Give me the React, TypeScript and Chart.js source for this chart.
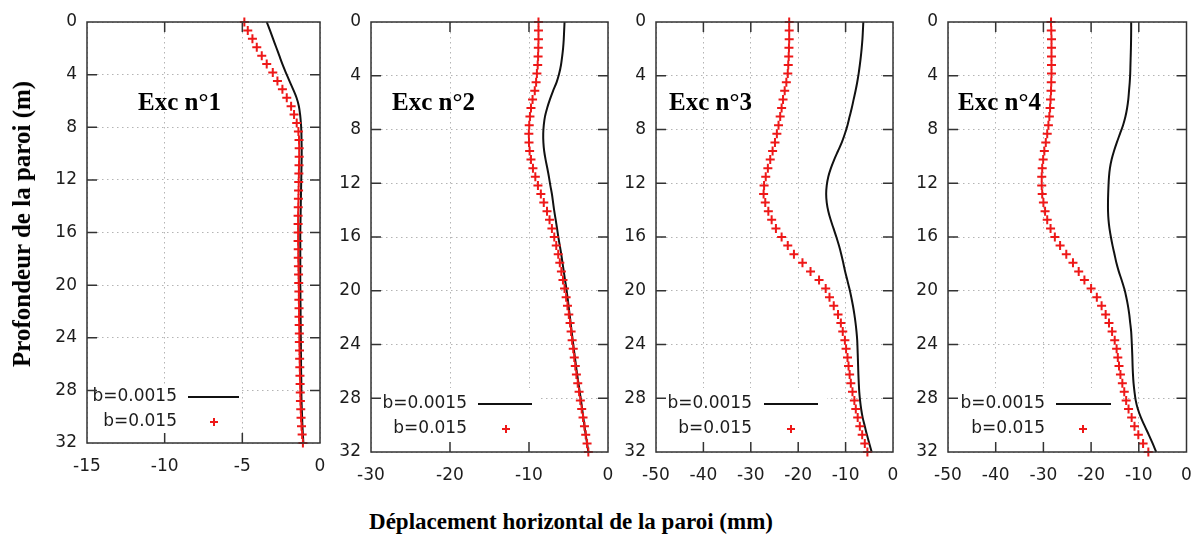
import React, { useEffect, useRef } from 'react';
import { Chart, registerables } from 'chart.js';
Chart.register(...registerables);

// ---------- DATA ----------
const depths = [0, 0.64, 1.28, 1.92, 2.56, 3.2, 3.84, 4.48, 5.12, 5.76, 6.4, 7.04, 7.68, 8.32, 8.96, 9.6, 10.24, 10.88, 11.52, 12.16, 12.8, 13.44, 14.08, 14.72, 15.36, 16, 16.64, 17.28, 17.92, 18.56, 19.2, 19.84, 20.48, 21.12, 21.76, 22.4, 23.04, 23.68, 24.32, 24.96, 25.6, 26.24, 26.88, 27.52, 28.16, 28.8, 29.44, 30.08, 30.72, 31.36, 32];

// b=0.0015 (solid line)
const exc1Line = [-3.43, -3.22, -3.02, -2.82, -2.62, -2.42, -2.2, -1.97, -1.73, -1.51, -1.36, -1.28, -1.23, -1.2, -1.19, -1.18, -1.18, -1.19, -1.2, -1.21, -1.22, -1.23, -1.24, -1.25, -1.26, -1.27, -1.27, -1.27, -1.27, -1.27, -1.27, -1.27, -1.26, -1.26, -1.25, -1.25, -1.24, -1.24, -1.23, -1.23, -1.22, -1.22, -1.21, -1.2, -1.2, -1.19, -1.17, -1.15, -1.13, -1.1, -1.07];
// b=0.015 (red crosses)
const exc1Marks = [-4.87, -4.65, -4.35, -4.07, -3.75, -3.43, -3.04, -2.74, -2.42, -2.14, -1.86, -1.67, -1.5, -1.39, -1.35, -1.34, -1.34, -1.35, -1.36, -1.37, -1.38, -1.39, -1.4, -1.41, -1.41, -1.41, -1.41, -1.4, -1.4, -1.39, -1.38, -1.37, -1.36, -1.36, -1.35, -1.35, -1.34, -1.33, -1.33, -1.32, -1.31, -1.3, -1.29, -1.28, -1.27, -1.26, -1.24, -1.22, -1.19, -1.15, -1.1];

const exc2Line = [-5.5, -5.55, -5.6, -5.68, -5.8, -5.95, -6.18, -6.5, -6.95, -7.35, -7.7, -7.98, -8.13, -8.2, -8.18, -8.08, -7.9, -7.68, -7.48, -7.3, -7.1, -6.95, -6.8, -6.62, -6.45, -6.29, -6.1, -5.92, -5.76, -5.6, -5.44, -5.27, -5.13, -4.99, -4.86, -4.73, -4.6, -4.47, -4.33, -4.19, -4.05, -3.9, -3.74, -3.58, -3.42, -3.27, -3.12, -2.98, -2.82, -2.65, -2.49];
const exc2Marks = [-8.8, -8.8, -8.8, -8.82, -8.85, -8.9, -9.0, -9.1, -9.27, -9.55, -9.75, -9.88, -9.97, -10.02, -10.0, -9.92, -9.75, -9.5, -9.2, -8.87, -8.5, -8.13, -7.72, -7.4, -7.1, -6.8, -6.55, -6.3, -6.1, -5.9, -5.7, -5.5, -5.3, -5.13, -4.96, -4.8, -4.67, -4.54, -4.4, -4.27, -4.14, -4.0, -3.83, -3.66, -3.5, -3.33, -3.16, -2.98, -2.82, -2.65, -2.49];

const exc3Line = [-6.26, -6.35, -6.45, -6.6, -6.78, -7.0, -7.25, -7.55, -7.9, -8.3, -8.7, -9.15, -9.6, -10.15, -10.8, -11.6, -12.4, -13.1, -13.65, -13.98, -14.1, -13.98, -13.65, -13.15, -12.55, -11.95, -11.4, -10.92, -10.5, -10.1, -9.65, -9.2, -8.8, -8.45, -8.15, -7.9, -7.7, -7.55, -7.48, -7.42, -7.36, -7.3, -7.22, -7.12, -6.95, -6.72, -6.4, -5.95, -5.5, -5.0, -4.5];
const exc3Marks = [-21.9, -21.9, -21.9, -21.95, -22.0, -22.1, -22.2, -22.5, -22.85, -23.2, -23.5, -23.8, -24.15, -24.5, -24.9, -25.4, -25.9, -26.4, -26.85, -27.2, -27.3, -26.95, -26.3, -25.6, -24.7, -23.5, -22.2, -20.9, -19.1, -17.4, -15.6, -14.2, -13.4, -12.5, -11.6, -11.0, -10.6, -10.15, -9.9, -9.6, -9.38, -9.15, -8.9, -8.55, -8.15, -7.85, -7.45, -7.0, -6.5, -5.95, -5.4];

const exc4Line = [-11.6, -11.6, -11.62, -11.65, -11.7, -11.75, -11.8, -11.9, -12.05, -12.2, -12.45, -12.8, -13.3, -13.95, -14.6, -15.2, -15.7, -16.05, -16.25, -16.35, -16.42, -16.46, -16.45, -16.35, -16.15, -15.85, -15.5, -15.1, -14.7, -14.2, -13.6, -13.05, -12.62, -12.27, -12.0, -11.8, -11.6, -11.5, -11.42, -11.35, -11.3, -11.22, -11.1, -10.9, -10.65, -10.2, -9.55, -8.75, -7.9, -7.1, -6.35];
const exc4Marks = [-28.4, -28.35, -28.3, -28.3, -28.3, -28.3, -28.3, -28.35, -28.4, -28.5, -28.6, -28.75, -28.95, -29.2, -29.5, -29.8, -30.05, -30.25, -30.35, -30.35, -30.25, -30.0, -29.65, -29.2, -28.5, -27.6, -26.5, -25.2, -23.8, -22.6, -21.4, -20.0, -18.8, -17.8, -16.95, -16.25, -15.6, -15.05, -14.65, -14.4, -14.15, -13.85, -13.45, -13.05, -12.65, -12.15, -11.5, -10.9, -10.1, -9.1, -8.0];

const panelNames = ['Exc n°1', 'Exc n°2', 'Exc n°3', 'Exc n°4'];
const legendLabels = ['b=0.0015', 'b=0.015'];
const xMins = [-15, -30, -50, -50];
const xMax = 0;
const xSteps = [5, 10, 10, 10];
const yMin = 0;
const yMax = 32;
const yStep = 4;
const yTitle = 'Profondeur de la paroi (m)';
const xTitle = 'Déplacement horizontal de la paroi (mm)';

const lineSeries = [exc1Line, exc2Line, exc3Line, exc4Line];
const markSeries = [exc1Marks, exc2Marks, exc3Marks, exc4Marks];

// ---------- LAYOUT / STYLE ----------
const RED = 'rgb(238,24,24)';
const INK = '#1c1c1c';
const layouts = [
  { left: 0, width: 328, height: 500, yW: 87, xH: 57, padR: 8, labelDx: 51,
    lg: { textR: 90, ls: 101, le: 152, mk: 127, boxR: 155, y1: 46, y2: 21, boxT: 56 } },
  { left: 325, width: 290, height: 500, yW: 46, xH: 48, padR: 7, labelDx: 21,
    lg: { textR: 96, ls: 107, le: 161, mk: 135, boxR: 170, y1: 48, y2: 23, boxT: 64 } },
  { left: 615, width: 285, height: 500, yW: 41, xH: 48, padR: 7, labelDx: 13,
    lg: { textR: 96, ls: 108, le: 162, mk: 135, boxR: 171, y1: 48, y2: 23, boxT: 64 } },
  { left: 905, width: 288, height: 500, yW: 43, xH: 48, padR: 6, labelDx: 10,
    lg: { textR: 97, ls: 108, le: 163, mk: 135, boxR: 172, y1: 48, y2: 23, boxT: 64 } },
];

function makeDecor(idx: number) {
  const lay = layouts[idx];
  const L = lay.lg;
  return {
    id: 'decor' + idx,
    beforeDatasetsDraw(chart: any) {
      const { ctx, chartArea: a } = chart;
      ctx.save();
      // legend box (white, hides grid)
      ctx.fillStyle = '#ffffff';
      ctx.fillRect(a.left + 1, a.bottom - L.boxT, L.boxR - 1, L.boxT - 1);
      // panel label
      ctx.fillStyle = '#000';
      ctx.font = 'bold 25px "Liberation Serif"';
      ctx.textAlign = 'left';
      ctx.textBaseline = 'alphabetic';
      ctx.fillText(panelNames[idx], a.left + lay.labelDx, 110);
      // legend texts
      ctx.font = '17px "DejaVu Sans"';
      ctx.fillStyle = INK;
      ctx.textAlign = 'right';
      ctx.textBaseline = 'middle';
      ctx.fillText(legendLabels[0], a.left + L.textR, a.bottom - L.y1);
      ctx.fillText(legendLabels[1], a.left + L.textR, a.bottom - L.y2);
      // line sample
      ctx.strokeStyle = '#111';
      ctx.lineWidth = 2;
      ctx.beginPath();
      ctx.moveTo(a.left + L.ls, a.bottom - L.y1);
      ctx.lineTo(a.left + L.le, a.bottom - L.y1);
      ctx.stroke();
      // marker sample
      const mx = a.left + L.mk, my = a.bottom - L.y2;
      ctx.strokeStyle = RED;
      ctx.lineWidth = 2;
      ctx.beginPath();
      ctx.moveTo(mx - 4, my); ctx.lineTo(mx + 4, my);
      ctx.moveTo(mx, my - 4); ctx.lineTo(mx, my + 4);
      ctx.stroke();
      ctx.restore();
    },
    afterDraw(chart: any) {
      const { ctx, chartArea: a, scales } = chart;
      ctx.save();
      ctx.strokeStyle = '#333';
      ctx.lineWidth = 1.5;
      ctx.strokeRect(a.left, a.top, a.right - a.left, a.bottom - a.top);
      const tl = 10;
      ctx.beginPath();
      scales.x.ticks.forEach((t: any) => {
        const px = scales.x.getPixelForValue(t.value);
        if (Math.abs(px - a.left) < 2 || Math.abs(px - a.right) < 2) return;
        ctx.moveTo(px, a.bottom); ctx.lineTo(px, a.bottom - tl);
        ctx.moveTo(px, a.top); ctx.lineTo(px, a.top + tl);
      });
      scales.y.ticks.forEach((t: any) => {
        const py = scales.y.getPixelForValue(t.value);
        if (Math.abs(py - a.top) < 2 || Math.abs(py - a.bottom) < 2) return;
        ctx.moveTo(a.left, py); ctx.lineTo(a.left + tl, py);
        ctx.moveTo(a.right, py); ctx.lineTo(a.right - tl, py);
      });
      ctx.stroke();
      ctx.restore();
    },
  };
}

function Panel({ idx }: { idx: number }) {
  const ref = useRef<HTMLCanvasElement | null>(null);
  const lay = layouts[idx];
  useEffect(() => {
    if (!ref.current) return;
    const lineData = depths.map((d, i) => ({ x: lineSeries[idx][i], y: d }));
    const markData = depths.map((d, i) => ({ x: markSeries[idx][i], y: d }));
    const tickFont = { family: '"DejaVu Sans"', size: 17 };
    const chart = new Chart(ref.current, {
      type: 'scatter',
      data: {
        datasets: [
          {
            label: legendLabels[1],
            data: markData,
            pointStyle: 'cross',
            pointRadius: 4.5,
            pointBorderWidth: 2,
            borderColor: RED,
            backgroundColor: RED,
            showLine: false,
            clip: false as any,
          },
          {
            label: legendLabels[0],
            data: lineData,
            showLine: true,
            pointRadius: 0,
            borderColor: '#111',
            borderWidth: 2,
            tension: 0.3,
            clip: false as any,
          },
        ],
      },
      options: {
        animation: false,
        responsive: false,
        events: [],
        layout: { padding: { left: 0, right: lay.padR, top: 22, bottom: 0 } },
        plugins: { legend: { display: false }, tooltip: { enabled: false }, title: { display: false } },
        scales: {
          x: {
            type: 'linear',
            min: xMins[idx],
            max: xMax,
            afterFit: (s: any) => { s.height = lay.xH; s.paddingLeft = 0; s.paddingRight = 0; },
            ticks: { stepSize: xSteps[idx], color: INK, font: tickFont, padding: 13, maxRotation: 0, autoSkip: false },
            grid: { color: '#b4b4b4', lineWidth: 1, drawTicks: false },
            border: { display: false, dash: [1.5, 3.5] },
          },
          y: {
            type: 'linear',
            reverse: true,
            min: yMin,
            max: yMax,
            afterFit: (s: any) => { s.width = lay.yW; s.paddingTop = 0; s.paddingBottom = 0; },
            ticks: { stepSize: yStep, color: INK, font: tickFont, padding: 10, autoSkip: false },
            grid: { color: '#b4b4b4', lineWidth: 1, drawTicks: false },
            border: { display: false, dash: [1.5, 3.5] },
          },
        },
      } as any,
      plugins: [makeDecor(idx)],
    });
    return () => chart.destroy();
  }, [idx]);
  return (
    <canvas
      ref={ref}
      width={lay.width}
      height={lay.height}
      style={{ position: 'absolute', left: lay.left, top: 0, width: lay.width, height: lay.height }}
    />
  );
}

export default function App() {
  return (
    <div style={{ position: 'fixed', left: 0, top: 0, width: 1193, height: 538, background: '#fff', overflow: 'hidden' }}>
      {[0, 1, 2, 3].map((i) => <Panel key={i} idx={i} />)}
      <div
        style={{
          position: 'absolute', left: 22, top: 224, transform: 'translate(-50%, -50%) rotate(-90deg)',
          whiteSpace: 'nowrap', font: 'bold 25px "Liberation Serif"', color: '#000',
        }}
      >{yTitle}</div>
      <div
        style={{
          position: 'absolute', left: 571, top: 522, transform: 'translate(-50%, -50%)',
          whiteSpace: 'nowrap', font: 'bold 23px "Liberation Serif"', color: '#000',
        }}
      >{xTitle}</div>
    </div>
  );
}
